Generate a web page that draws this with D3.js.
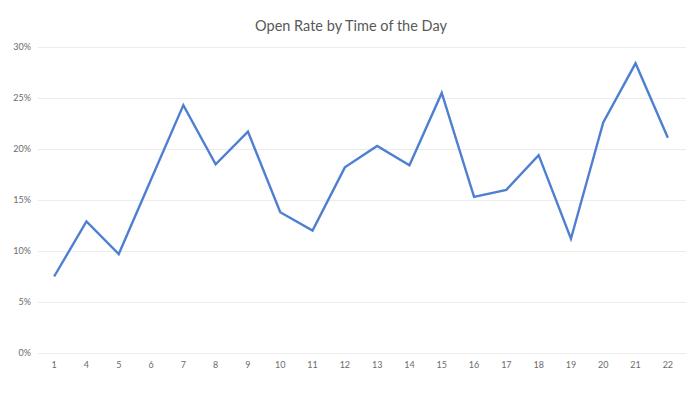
<!DOCTYPE html>
<html lang="en">
<head>
    <meta charset="UTF-8">
    <title>Open Rate by Time of the Day</title>
    <script src="https://d3js.org/d3.v7.min.js"></script>
    <style>
        body { margin: 0; background: #fff; }
    </style>
</head>
<body>
<div id="chart"></div>
<script>

//hour of day and the open rate (%) for each one
const hours = ['1', '4', '5', '6', '7', '8', '9', '10', '11', '12', '13', '14', '15', '16', '17', '18', '19', '20', '21', '22'];
const openRate = [7.5, 12.9, 9.7, 17.0, 24.3, 18.5, 21.7, 13.8, 12.0, 18.2, 20.3, 18.4, 25.5, 15.3, 16.0, 19.4, 11.2, 22.6, 28.4, 21.1];
const yTicks = [0, 5, 10, 15, 20, 25, 30];

const width = 700, height = 394;
const margin = {top: 47, right: 16, bottom: 41, left: 38};

const svg = d3.select('#chart').append('svg')
    .attr('width', width)
    .attr('height', height);

const x = d3.scaleBand().domain(hours).range([margin.left, width - margin.right]);
const y = d3.scaleLinear().domain([0, 30]).range([height - margin.bottom, margin.top]);

//title
svg.append('text')
    .attr('x', 351)
    .attr('y', 31)
    .attr('text-anchor', 'middle')
    .style('font-family', 'Lato, sans-serif')
    .style('font-size', '14.5px')
    .style('fill', '#595959')
    .text('Open Rate by Time of the Day');

//gridlines + y labels
const yAxis = svg.append('g')
    .attr('transform', `translate(${margin.left},0)`)
    .call(d3.axisLeft(y).tickValues(yTicks).tickFormat(d => d + '%')
        .tickSize(-(width - margin.left - margin.right + 2)).tickPadding(7));
yAxis.select('.domain').remove();
yAxis.selectAll('line').style('stroke', '#ececec').style('stroke-width', 1);
yAxis.selectAll('text')
    .style('font-family', 'Lato, sans-serif')
    .style('font-size', '9px')
    .style('fill', '#6b6b6b');

//x labels
const xAxis = svg.append('g')
    .attr('transform', `translate(0,${height - margin.bottom})`)
    .call(d3.axisBottom(x).tickSize(0).tickPadding(9));
xAxis.select('.domain').remove();
xAxis.selectAll('text')
    .style('font-family', 'Lato, sans-serif')
    .style('font-size', '9px')
    .style('fill', '#6b6b6b');

//the line
const line = d3.line()
    .x((d, i) => x(hours[i]) + x.bandwidth() / 2)
    .y(d => y(d));

svg.append('path')
    .datum(openRate)
    .attr('d', line)
    .style('fill', 'none')
    .style('stroke', '#4e7fd1')
    .style('stroke-width', 2.4)
    .style('stroke-linejoin', 'miter');

</script>
</body>
</html>
